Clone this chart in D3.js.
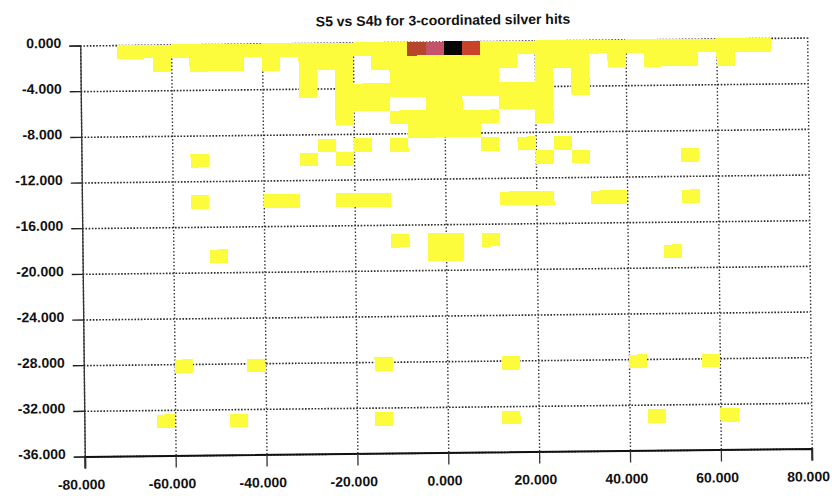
<!DOCTYPE html>
<html>
<head>
<meta charset="utf-8">
<script src="https://cdn.jsdelivr.net/npm/d3@7"></script>
<style>
  html, body { margin: 0; padding: 0; background: #ffffff; }
  svg { display: block; }
</style>
</head>
<body>
<svg id="chart" width="832" height="496"></svg>
<script>
// ---- data -------------------------------------------------------------
const titleText = "S5 vs S4b for 3-coordinated silver hits";
const xTicks = [-80, -60, -40, -20, 0, 20, 40, 60, 80];
const yTicks = [0, -4, -8, -12, -16, -20, -24, -28, -32, -36];

// bin size of the 2-D histogram (S5 along x, S4b along y)
const binWidth = 4;
const binHeight = 1.2;

// top edge (S4b) of each occupied row of bins
const rowTop = [0, -1.2, -2.4, -3.6, -4.8, -6.0, -7.2, -8.4, -9.6, -13.2, -16.8, -18.0, -27.6, -32.4];
// left edges (S5) of the occupied bins in each of those rows
const rowBins = [
  d3.range(-72, 72, 4),
  [-64, -56, -52, -48, -40, -32, -28, -24, -16, -12, -8, -4, 0, 4, 8, 12, 20, 24, 28, 36, 44, 48, 52, 60],
  [-32, -24, -12, -8, -4, 0, 4, 8, 20, 28],
  [-32, -24, -20, -16, -12, -8, -4, 0, 4, 8, 12, 16, 20, 28],
  [-24, -20, -16, -4, 0, 12, 16, 20],
  [-24, -12, -8, -4, 0, 4, 8, 20],
  [-8, -4, 0, 4],
  [-28, -20, -12, 8, 16, 24],
  [-56, -32, -24, 20, 28, 52],
  [-56, -40, -36, -24, -20, -16, 12, 16, 20, 32, 36, 52],
  [-12, -4, 0, 8],
  [-52, -4, 0, 48],
  [-60, -44, -16, 12, 40, 56],
  [-64, -48, -16, 12, 44, 60]
];
// bins in the top row with many hits (all other bins hold a single hit)
const hotX = [-8, -4, 0, 4];
const hotCount = [42, 58, 100, 30];

// ---- layout -----------------------------------------------------------
const svg = d3.select("#chart");
const root = svg.append("g").attr("transform", "rotate(-0.63 446 250)");

const x = d3.scaleLinear().domain([-80, 80]).range([82.5, 809.5]);
const y = d3.scaleLinear().domain([0, -36]).range([41.5, 452.5]);

const color = d3.scaleLinear()
  .domain([1, 30, 42, 58, 100])
  .range(["#fdfc3c", "#c9432b", "#b5462c", "#c3526a", "#060606"])
  .clamp(true);

const fmt = d3.formatLocale({ decimal: ".", thousands: ",", grouping: [3], currency: ["", ""], minus: "-" }).format(".3f");

const cells = [];
rowTop.forEach((top, i) => {
  rowBins[i].forEach(left => {
    const h = hotX.indexOf(left);
    const count = (i === 0 && h >= 0) ? hotCount[h] : 1;
    cells.push({ left, top, count });
  });
});

// ---- title ------------------------------------------------------------
root.append("text")
  .attr("x", 445.5).attr("y", 25)
  .attr("text-anchor", "middle")
  .attr("font-family", "Liberation Sans, Arial, sans-serif")
  .attr("font-weight", "bold")
  .attr("font-size", 14)
  .attr("fill", "#111")
  .text(titleText);

// ---- grid -------------------------------------------------------------
const plotW = x(80) - x(-80);
const plotH = y(-36) - y(0);

const hGrid = root.append("g")
  .attr("transform", `translate(${x(-80)},0)`)
  .call(d3.axisLeft(y).tickValues(yTicks).tickSize(-plotW).tickFormat(""));
hGrid.select(".domain").remove();
hGrid.selectAll("line")
  .attr("stroke", "#2a2a2a").attr("stroke-width", 1.6)
  .attr("stroke-dasharray", "1.6,1.6");

const vGrid = root.append("g")
  .attr("transform", `translate(0,${y(-36)})`)
  .call(d3.axisBottom(x).tickValues(xTicks).tickSize(-plotH).tickFormat(""));
vGrid.select(".domain").remove();
vGrid.selectAll("line")
  .attr("stroke", "#3a3a3a").attr("stroke-width", 1.4)
  .attr("stroke-dasharray", "1.5,2");

// ---- histogram cells --------------------------------------------------
root.append("g").selectAll("rect")
  .data(cells)
  .join("rect")
  .attr("x", d => x(d.left))
  .attr("y", d => y(d.top))
  .attr("width", d => x(d.left + binWidth) - x(d.left))
  .attr("height", d => y(d.top - binHeight) - y(d.top))
  .attr("fill", d => color(d.count))
  .attr("shape-rendering", "crispEdges");

// ---- axes -------------------------------------------------------------
const yAxis = root.append("g")
  .attr("transform", `translate(${x(-80)},0)`)
  .call(d3.axisLeft(y).tickValues(yTicks).tickSize(11).tickPadding(8).tickFormat(fmt));
yAxis.select(".domain").attr("stroke", "#333").attr("stroke-width", 1.3);
yAxis.selectAll(".tick line").attr("stroke", "#222").attr("stroke-width", 1.4);
yAxis.selectAll("text")
  .attr("font-family", "Liberation Sans, Arial, sans-serif")
  .attr("font-weight", "bold")
  .attr("font-size", 14)
  .attr("fill", "#111")
  .attr("dy", "0.12em");

const xAxis = root.append("g")
  .attr("transform", `translate(0,${y(-36)})`)
  .call(d3.axisBottom(x).tickValues(xTicks).tickSize(12).tickPadding(11).tickFormat(fmt));
xAxis.select(".domain").attr("stroke", "#111").attr("stroke-width", 2);
xAxis.selectAll(".tick line").attr("stroke", "#333").attr("stroke-width", 1.3);
xAxis.selectAll("text")
  .attr("font-family", "Liberation Sans, Arial, sans-serif")
  .attr("font-weight", "bold")
  .attr("font-size", 14)
  .attr("fill", "#111")
  .attr("dx", -4);
</script>
</body>
</html>
